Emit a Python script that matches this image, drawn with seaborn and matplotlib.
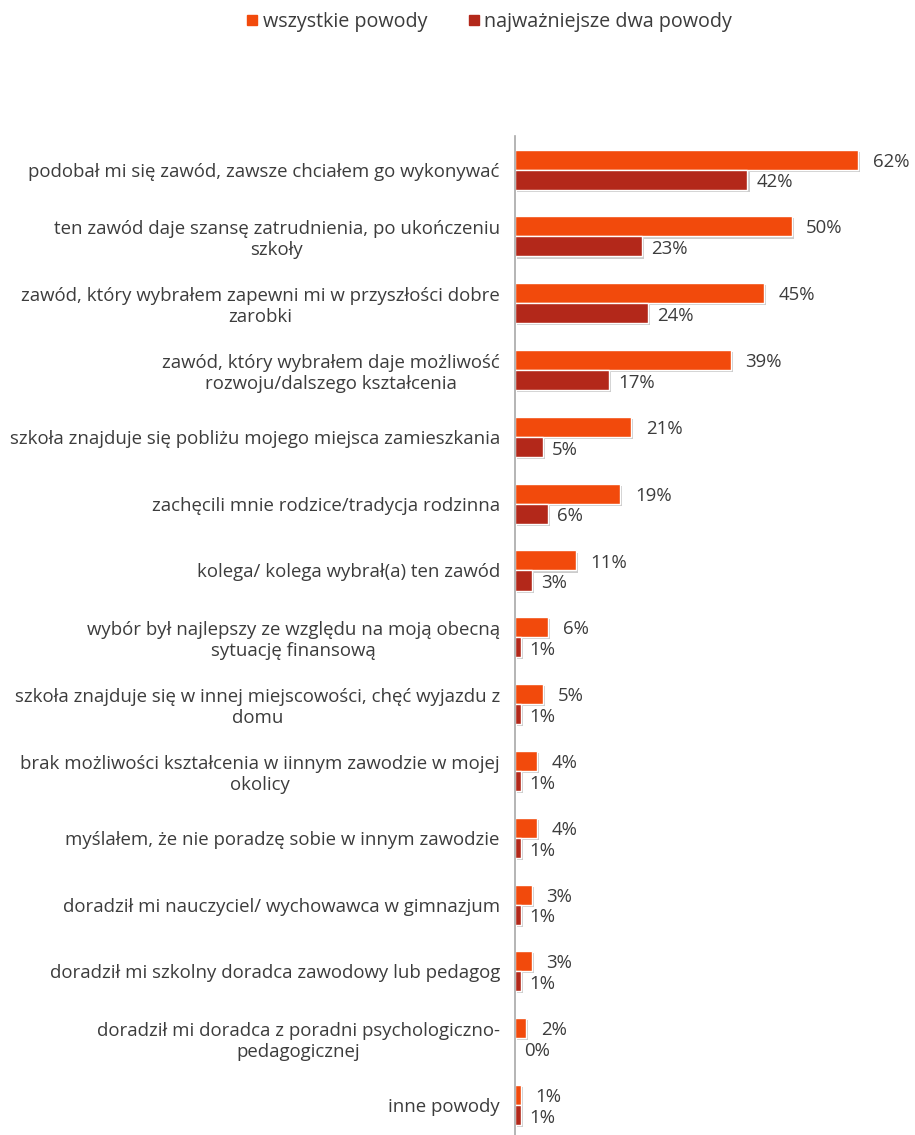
import matplotlib
matplotlib.use("Agg")
import matplotlib.pyplot as plt
import matplotlib.patheffects as pe
from matplotlib.lines import Line2D
import seaborn as sns
import pandas as pd
import numpy as np

categories = [
    "podobał mi się zawód, zawsze chciałem go wykonywać",
    "ten zawód daje szansę zatrudnienia, po ukończeniu\nszkoły",
    "zawód, który wybrałem zapewni mi w przyszłości dobre\nzarobki",
    "zawód, który wybrałem daje możliwość\nrozwoju/dalszego kształcenia",
    "szkoła znajduje się pobliżu mojego miejsca zamieszkania",
    "zachęcili mnie rodzice/tradycja rodzinna",
    "kolega/ kolega wybrał(a) ten zawód",
    "wybór był najlepszy ze względu na moją obecną\nsytuację finansową",
    "szkoła znajduje się w innej miejscowości, chęć wyjazdu z\ndomu",
    "brak możliwości kształcenia w iinnym zawodzie w mojej\nokolicy",
    "myślałem, że nie poradzę sobie w innym zawodzie",
    "doradził mi nauczyciel/ wychowawca w gimnazjum",
    "doradził mi szkolny doradca zawodowy lub pedagog",
    "doradził mi doradca z poradni psychologiczno-\npedagogicznej",
    "inne powody",
]
all_reasons = [62, 50, 45, 39, 21, 19, 11, 6, 5, 4, 4, 3, 3, 2, 1]
top_two = [42, 23, 24, 17, 5, 6, 3, 1, 1, 1, 1, 1, 1, 0, 1]
series_names = ["wszystkie powody", "najważniejsze dwa powody"]
colors = ["#F24A0C", "#B3281A"]

df = pd.DataFrame({
    "kategoria": categories * 2,
    "wartosc": all_reasons + top_two,
    "seria": [series_names[0]] * len(categories) + [series_names[1]] * len(categories),
})

sns.set_style("white")
plt.rcParams["font.family"] = ["Open Sans", "DejaVu Sans"]
txt = "#3C3C3C"
fs = 13.4

fig = plt.figure(figsize=(9.15, 11.35), dpi=100)
ax = fig.add_axes([0.563, -0.003, 0.437, 0.883])

sns.barplot(data=df, y="kategoria", x="wartosc", hue="seria", orient="h",
            palette=colors, width=0.6, ax=ax, legend=False, saturation=1)

for p in ax.patches:
    p.set_path_effects([pe.SimplePatchShadow(offset=(1.5, -1.5), shadow_rgbFace="#9a9a9a", alpha=0.5), pe.Normal()])

for ci, cont in enumerate(ax.containers):
    for bar, v in zip(cont, all_reasons if ci == 0 else top_two):
        y = bar.get_y() + bar.get_height() / 2
        ax.annotate(f"{v}%", (bar.get_width(), y), xytext=(10.5 if ci == 0 else 6.5, -1.5 if ci == 0 else -2),
                    textcoords="offset points", ha="left", va="center",
                    fontsize=fs, color=txt)

ax.set_xlim(0, 72.3)
ax.set_ylim(len(categories) - 0.5, -0.5)
ax.set_xlabel("")
ax.set_ylabel("")
ax.set_xticks([])
ax.set_yticks(np.arange(len(categories)), labels=categories, multialignment="center",
              fontsize=fs, color=txt)
ax.tick_params(axis="y", length=0, pad=11)
ax.set_yticks(np.arange(len(categories) + 1) - 0.5, minor=True)
ax.tick_params(axis="y", which="minor", length=5, color="#A8A8A8", width=1)
for s in ["top", "right", "bottom"]:
    ax.spines[s].set_visible(False)
ax.spines["left"].set_color("#A8A8A8")
ax.spines["left"].set_linewidth(1.2)

handles = [Line2D([0], [0], marker="s", linestyle="none", markersize=7.5,
                  markerfacecolor=c, markeredgecolor=c) for c in colors]
fig.legend(handles, series_names, loc="center", bbox_to_anchor=(0.533, 0.981), ncol=2,
           frameon=False, fontsize=14.2, handletextpad=0.1, columnspacing=1.9,
           handlelength=0.9, labelcolor=txt)

fig.savefig("out.png", dpi=100)
